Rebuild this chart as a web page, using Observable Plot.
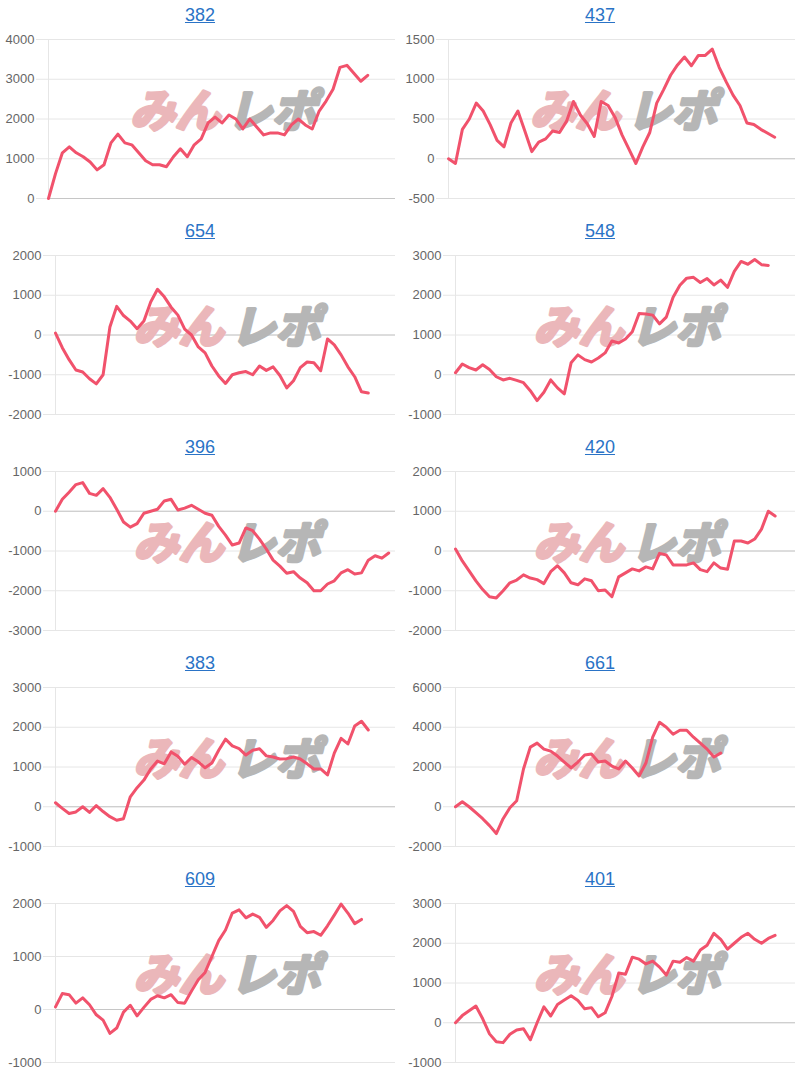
<!DOCTYPE html>
<html>
<head>
<meta charset="utf-8">
<script src="https://cdn.jsdelivr.net/npm/d3@7"></script>
<script src="https://cdn.jsdelivr.net/npm/@observablehq/plot@0.6"></script>
<style>
  html, body { margin: 0; padding: 0; background: #fff; }
  #grid { display: grid; grid-template-columns: 400px 400px; width: 800px; }
  .cell { width: 400px; height: 216px; overflow: hidden; }
  .title { height: 30px; line-height: 30px; text-align: center; font-family: "Liberation Sans", Arial, sans-serif; font-size: 18px; }
  .title a { color: #2a73c6; text-decoration: underline; }
  svg { display: block; }
</style>
</head>
<body>
<div id="grid"></div>
<script>
// Panel titles (machine numbers)
const titles = ["382", "437", "654", "548", "396", "420", "383", "661", "609", "401"];

// Cumulative values per game step
const v382 = [0, 620, 1150, 1300, 1150, 1050, 920, 720, 850, 1400, 1620, 1400, 1350, 1150, 950, 850, 850, 800, 1050, 1250, 1050, 1350, 1500, 1900, 2050, 1900, 2100, 2000, 1750, 2000, 1800, 1600, 1650, 1650, 1600, 1850, 2000, 1850, 1750, 2200, 2450, 2750, 3300, 3350, 3150, 2950, 3100];
const v437 = [0, -60, 370, 500, 700, 600, 430, 230, 150, 450, 600, 350, 90, 210, 250, 350, 330, 470, 720, 550, 440, 280, 720, 670, 520, 300, 120, -60, 150, 330, 700, 870, 1050, 1180, 1280, 1170, 1300, 1300, 1380, 1150, 970, 800, 670, 450, 430, 370, 320, 270];
const v654 = [50, -320, -620, -880, -930, -1100, -1230, -1000, 200, 720, 490, 350, 160, 350, 830, 1150, 960, 700, 500, 150, 0, -300, -450, -780, -1030, -1220, -1000, -950, -920, -1000, -780, -890, -800, -1020, -1330, -1150, -820, -680, -700, -900, -100, -250, -500, -800, -1050, -1430, -1460];
const v548 = [50, 270, 180, 120, 250, 130, -50, -130, -90, -140, -200, -400, -650, -440, -130, -330, -480, 300, 500, 380, 320, 420, 550, 850, 800, 900, 1080, 1540, 1530, 1500, 1280, 1450, 1950, 2250, 2430, 2450, 2320, 2420, 2260, 2380, 2200, 2600, 2850, 2780, 2900, 2770, 2750];
const v396 = [0, 300, 480, 670, 720, 450, 400, 570, 350, 50, -270, -400, -310, -50, 0, 50, 260, 300, 30, 80, 150, 50, -50, -100, -380, -600, -850, -800, -420, -490, -700, -950, -1230, -1380, -1560, -1520, -1680, -1800, -2000, -2000, -1830, -1750, -1550, -1470, -1580, -1550, -1230, -1120, -1180, -1050];
const v420 = [50, -250, -500, -750, -970, -1150, -1180, -1000, -800, -730, -600, -680, -720, -820, -520, -370, -550, -800, -850, -700, -750, -1000, -980, -1150, -650, -550, -450, -500, -400, -450, -60, -100, -350, -350, -350, -300, -470, -520, -300, -430, -460, 250, 250, 200, 300, 550, 1000, 880];
const v383 = [100, -40, -170, -130, 0, -140, 30, -120, -250, -340, -300, 250, 480, 670, 950, 1150, 1080, 1380, 1270, 1070, 1240, 1130, 980, 1100, 1420, 1700, 1530, 1460, 1300, 1420, 1460, 1280, 1250, 1200, 1210, 1250, 1200, 1080, 950, 950, 800, 1350, 1720, 1580, 2030, 2150, 1930];
const v661 = [0, 250, 0, -300, -600, -950, -1350, -600, -50, 300, 1900, 3000, 3200, 2900, 2800, 2550, 2250, 1950, 2250, 2600, 2650, 2250, 2300, 2050, 1900, 2300, 1950, 1550, 2200, 3500, 4250, 4000, 3650, 3850, 3850, 3500, 3200, 2900, 2500, 2700];
const v609 = [50, 300, 280, 120, 220, 90, -100, -200, -450, -350, -50, 80, -120, 40, 190, 260, 220, 280, 130, 120, 350, 560, 700, 1000, 1300, 1500, 1820, 1880, 1730, 1800, 1740, 1550, 1680, 1860, 1960, 1850, 1570, 1450, 1470, 1400, 1580, 1780, 1990, 1820, 1620, 1700];
const v401 = [0, 180, 300, 420, 100, -280, -480, -500, -290, -180, -150, -430, 0, 400, 170, 460, 570, 680, 560, 350, 380, 150, 250, 660, 1250, 1220, 1650, 1600, 1480, 1550, 1400, 1200, 1550, 1520, 1640, 1550, 1830, 1950, 2250, 2100, 1850, 2000, 2150, 2250, 2100, 2000, 2120, 2200];

// Y-axis tick labels per panel
const ticks382 = [0, 1000, 2000, 3000, 4000];
const ticks437 = [-500, 0, 500, 1000, 1500];
const ticks654 = [-2000, -1000, 0, 1000, 2000];
const ticks548 = [-1000, 0, 1000, 2000, 3000];
const ticks396 = [-3000, -2000, -1000, 0, 1000];
const ticks420 = [-2000, -1000, 0, 1000, 2000];
const ticks383 = [-1000, 0, 1000, 2000, 3000];
const ticks661 = [-2000, 0, 2000, 4000, 6000];
const ticks609 = [-1000, 0, 1000, 2000];
const ticks401 = [-1000, 0, 1000, 2000, 3000];

// Shared x extent (game steps across the full axis)
const xExtent = [0, 50];

const seriesList = [v382, v437, v654, v548, v396, v420, v383, v661, v609, v401];
const tickList = [ticks382, ticks437, ticks654, ticks548, ticks396, ticks420, ticks383, ticks661, ticks609, ticks401];

const grid = document.getElementById("grid");
const fmt = d => String(d);
const wmFont = "'Noto Sans CJK JP', sans-serif";

titles.forEach((t, k) => {
  const values = seriesList[k];
  const ticks = tickList[k];
  const longest = d3.max(ticks, d => String(d).length);
  const ml = longest >= 5 ? 55 : 48;

  const cell = document.createElement("div");
  cell.className = "cell";
  const title = document.createElement("div");
  title.className = "title";
  const a = document.createElement("a");
  a.href = "#";
  a.textContent = t;
  title.appendChild(a);
  cell.appendChild(title);

  const chart = Plot.plot({
    width: 400,
    height: 186,
    marginTop: 9,
    marginBottom: 18,
    marginLeft: ml,
    marginRight: 5,
    style: { fontFamily: "'Liberation Sans', Arial, sans-serif", fontSize: "13px", color: "#666", background: "white", overflow: "visible" },
    x: { domain: xExtent, axis: null },
    y: { domain: d3.extent(ticks), ticks: ticks, axis: null },
    marks: [
      Plot.gridY(ticks, { stroke: "#e6e6e6", strokeOpacity: 1 }),
      Plot.ruleY([0], { stroke: "#c6c6c6" }),
      Plot.ruleX([xExtent[0]], { stroke: "#e6e6e6" }),
      Plot.axisY(ticks, { tickSize: 12, tickPadding: 2, stroke: "#e6e6e6", fill: "#666", tickFormat: fmt, label: null }),
      Plot.text(["みん"], { frameAnchor: "middle", textAnchor: "end", dx: -2, dy: -6, fontSize: 45, fontWeight: "bold", fontStyle: "italic", fill: "#ebb7ba", stroke: "#ebb7ba", strokeWidth: 3.5, fontFamily: wmFont }),
      Plot.text(["レポ"], { frameAnchor: "middle", textAnchor: "start", dx: 5, dy: -6, fontSize: 45, fontWeight: "bold", fontStyle: "italic", fill: "#b6b6b6", stroke: "#b6b6b6", strokeWidth: 3.5, fontFamily: wmFont }),
      Plot.line(values, { x: (d, i) => i, y: d => d, stroke: "#f1526c", strokeWidth: 3, strokeLinejoin: "round", strokeLinecap: "round" })
    ]
  });
  cell.appendChild(chart);
  grid.appendChild(cell);
});
</script>
</body>
</html>
